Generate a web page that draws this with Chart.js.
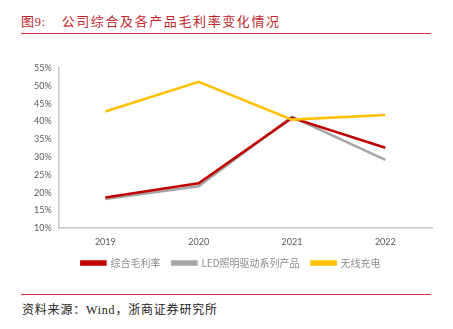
<!DOCTYPE html>
<html>
<head>
<meta charset="utf-8">
<script src="https://cdn.jsdelivr.net/npm/chart.js@4/dist/chart.umd.min.js"></script>
<style>
  html, body { margin: 0; padding: 0; background: #fff; }
  body { width: 453px; height: 329px; position: relative; overflow: hidden; font-family: "Liberation Serif", "Noto Sans CJK SC", serif; }
  .title { position: absolute; left: 21px; top: 11px; font-size: 13px; color: #c0272d; letter-spacing: 1.6px; }
  .title .num { margin-right: 16px; letter-spacing: 0.5px; }
  .rule { position: absolute; left: 21px; width: 410px; height: 1px; background: #d9363e; }
  .source { position: absolute; left: 22px; top: 300px; font-size: 12px; color: #222; letter-spacing: 0.8px; }
  #wrap { position: absolute; left: 0; top: 55px; width: 453px; height: 232px; }
</style>
</head>
<body>
<div class="title"><span class="num">图9:</span>公司综合及各产品毛利率变化情况</div>
<div class="rule" style="top:33px"></div>
<div id="wrap"><canvas id="chart"></canvas></div>
<div class="rule" style="top:294px"></div>
<div class="source">资料来源：Wind，浙商证券研究所</div>
<script>
const years = ['2019', '2020', '2021', '2022'];
const overallMargin = [18.6, 22.6, 41.0, 32.6];
const ledDriverMargin = [18.2, 21.8, 41.3, 29.2];
const wirelessMargin = [42.8, 51.1, 40.5, 41.8];
const yTicks = [10, 15, 20, 25, 30, 35, 40, 45, 50, 55];

const mk = (label, data, color, order) => ({
    label, data, order,
    borderColor: color,
    backgroundColor: color,
    borderWidth: 2.6,
    pointRadius: 0,
    tension: 0,
    fill: false
});

// pull the legend a bit closer to the x labels, keep horizontal spacing
const liftLegend = {
    id: 'liftLegend',
    afterLayout(chart) {
        if (!chart.legend) return;
        chart.legend.top -= 9;
        chart.legend.bottom -= 9;
    }
};

new Chart(document.getElementById('chart'), {
    type: 'line',
    data: {
        labels: years,
        datasets: [
            mk('综合毛利率', overallMargin, '#c00000', 1),
            mk('LED照明驱动系列产品', ledDriverMargin, '#a6a6a6', 2),
            mk('无线充电', wirelessMargin, '#ffc000', 0)
        ]
    },
    plugins: [liftLegend],
    options: {
        responsive: true,
        maintainAspectRatio: false,
        animation: false,
        layout: { padding: { left: 30, right: 21, top: 13, bottom: 0 } },
        plugins: {
            tooltip: { enabled: false },
            legend: {
                position: 'bottom',
                labels: {
                    boxWidth: 24,
                    boxHeight: 3,
                    padding: 12,
                    color: '#8c8c8c',
                    sort: (a, b) => a.datasetIndex - b.datasetIndex,
                    font: { family: '"Noto Sans CJK SC", sans-serif', size: 10 }
                }
            }
        },
        scales: {
            x: {
                offset: true,
                grid: { display: false, drawTicks: false },
                border: { display: true, color: '#c8c8c8', width: 1.5 },
                ticks: { color: '#595959', padding: 8, font: { family: 'Lato, sans-serif', size: 9 } }
            },
            y: {
                min: 10, max: 55,
                afterBuildTicks: axis => { axis.ticks = yTicks.map(v => ({ value: v })); },
                grid: { display: false, drawTicks: true, tickLength: 3, tickColor: '#c8c8c8' },
                border: { display: true, color: '#c8c8c8', width: 1.5 },
                ticks: {
                    color: '#595959', padding: 4,
                    font: { family: 'Lato, sans-serif', size: 9 },
                    callback: v => v + '%'
                }
            }
        }
    }
});
</script>
</body>
</html>
